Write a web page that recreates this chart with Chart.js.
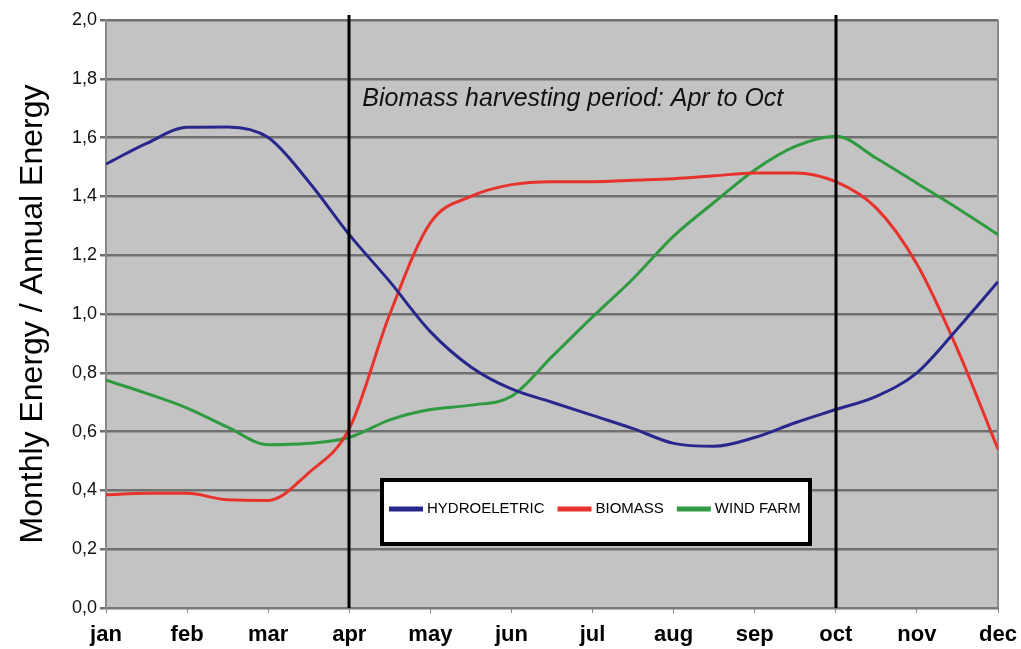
<!DOCTYPE html>
<html>
<head>
<meta charset="utf-8">
<title>Monthly Energy / Annual Energy</title>
<script src="https://cdn.jsdelivr.net/npm/chart.js@4.4.1/dist/chart.umd.min.js"></script>
<style>
  html, body { margin: 0; padding: 0; background: #fff; }
  #wrap { width: 1021px; height: 649px; position: relative; }
</style>
</head>
<body>
<div id="wrap"><canvas id="energyChart"></canvas></div>
<script>
// Data (half-month steps, 0 = jan ... 11 = dec)
const months = ['jan', 'feb', 'mar', 'apr', 'may', 'jun', 'jul', 'aug', 'sep', 'oct', 'nov', 'dec'];
const positions = [0, 0.5, 1, 1.5, 2, 2.5, 3, 3.5, 4, 4.5, 5, 5.5, 6, 6.5, 7, 7.5, 8, 8.5, 9, 9.5, 10, 10.5, 11];
const hydro   = [1.51, 1.58, 1.635, 1.636, 1.60, 1.45, 1.27, 1.11, 0.94, 0.82, 0.745, 0.70, 0.655, 0.61, 0.56, 0.55, 0.58, 0.63, 0.675, 0.72, 0.80, 0.95, 1.11];
const biomass = [0.385, 0.39, 0.39, 0.368, 0.366, 0.46, 0.61, 1.00, 1.31, 1.40, 1.44, 1.45, 1.45, 1.455, 1.46, 1.47, 1.48, 1.48, 1.45, 1.36, 1.17, 0.88, 0.54];
const wind    = [0.775, 0.73, 0.68, 0.615, 0.555, 0.56, 0.58, 0.64, 0.675, 0.69, 0.72, 0.855, 0.99, 1.12, 1.265, 1.38, 1.49, 1.57, 1.605, 1.53, 1.445, 1.36, 1.27];
const seriesNames = ['HYDROELETRIC', 'BIOMASS', 'WIND FARM'];
const seriesColors = ['#28288c', '#e8332c', '#2f9a40'];
const yTicks = [0, 0.2, 0.4, 0.6, 0.8, 1.0, 1.2, 1.4, 1.6, 1.8, 2.0];
const harvestStart = 3, harvestEnd = 9; // apr, oct
const harvestLabel = 'Biomass harvesting period: Apr to Oct';

const FONT = '"Liberation Sans", Arial, Helvetica, sans-serif';

function toPoints(values) {
  return positions.map((x, i) => ({ x, y: values[i] }));
}

// Grey plot background + right border
const plotBackground = {
  id: 'plotBackground',
  beforeDraw(chart) {
    const { ctx, chartArea: a } = chart;
    ctx.save();
    ctx.fillStyle = '#c3c3c3';
    ctx.fillRect(a.left, a.top, a.right - a.left, a.bottom - a.top);
    ctx.restore();
  },
  beforeDatasetsDraw(chart) {
    const { ctx, chartArea: a } = chart;
    ctx.save();
    ctx.strokeStyle = '#8a8a8a';
    ctx.lineWidth = 2;
    ctx.beginPath();
    ctx.moveTo(a.right, a.top);
    ctx.lineTo(a.right, a.bottom);
    ctx.stroke();
    ctx.restore();
  }
};

// Harvest period lines, label and boxed legend
const harvestMarks = {
  id: 'harvestMarks',
  afterDatasetsDraw(chart) {
    const { ctx, chartArea: a, scales: { x, y } } = chart;
    ctx.save();
    ctx.strokeStyle = '#000';
    ctx.lineWidth = 3;
    [harvestStart, harvestEnd].forEach(m => {
      const px = Math.round(x.getPixelForValue(m));
      ctx.beginPath();
      ctx.moveTo(px, a.top - 5);
      ctx.lineTo(px, a.bottom);
      ctx.stroke();
    });
    ctx.fillStyle = '#111';
    ctx.font = `italic 25px ${FONT}`;
    ctx.textBaseline = 'middle';
    ctx.fillText(harvestLabel, x.getPixelForValue(harvestStart) + 13, y.getPixelForValue(1.73));
    ctx.restore();
  },
  afterDraw(chart) {
    const { ctx } = chart;
    const box = { left: 382, top: 480, width: 428, height: 64 };
    ctx.save();
    ctx.fillStyle = '#fff';
    ctx.fillRect(box.left, box.top, box.width, box.height);
    ctx.strokeStyle = '#000';
    ctx.lineWidth = 4;
    ctx.strokeRect(box.left, box.top, box.width, box.height);
    ctx.font = `15px ${FONT}`;
    ctx.textBaseline = 'middle';
    const cy = box.top + box.height / 2 - 3;
    let cx = box.left + 7;
    chart.data.datasets.forEach(ds => {
      ctx.strokeStyle = ds.borderColor;
      ctx.lineWidth = 5;
      ctx.beginPath();
      ctx.moveTo(cx, cy);
      ctx.lineTo(cx + 34, cy);
      ctx.stroke();
      cx += 38;
      ctx.fillStyle = '#000';
      ctx.fillText(ds.label, cx, cy);
      cx += ctx.measureText(ds.label).width + 13;
    });
    ctx.restore();
  }
};

new Chart(document.getElementById('energyChart'), {
  type: 'line',
  data: {
    datasets: [hydro, biomass, wind].map((vals, i) => ({
      label: seriesNames[i],
      data: toPoints(vals),
      borderColor: seriesColors[i],
      backgroundColor: seriesColors[i],
      borderWidth: 3,
      pointRadius: 0,
      cubicInterpolationMode: 'monotone',
      fill: false
    }))
  },
  options: {
    responsive: true,
    maintainAspectRatio: false,
    animation: false,
    layout: { padding: { top: 20, right: 23, left: 0, bottom: 0 } },
    plugins: { legend: { display: false }, tooltip: { enabled: false } },
    scales: {
      x: {
        type: 'linear',
        min: 0,
        max: months.length - 1,
        afterFit: s => { s.height = 41; s.paddingLeft = 0; s.paddingRight = 0; },
        afterBuildTicks: s => { s.ticks = months.map((_, i) => ({ value: i })); },
        ticks: {
          callback: v => months[v],
          color: '#000',
          padding: 9,
          maxRotation: 0,
          font: { family: FONT, size: 22, weight: 'bold' }
        },
        grid: { drawOnChartArea: false, drawTicks: true, tickLength: 5, color: '#8a8a8a', lineWidth: 1 },
        border: { display: true, color: '#7a7a7a', width: 2 }
      },
      y: {
        min: 0,
        max: 2,
        afterFit: s => { s.width = 106; },
        afterBuildTicks: s => { s.ticks = yTicks.map(v => ({ value: v })); },
        ticks: {
          callback: v => v.toFixed(1).replace('.', ','),
          color: '#111',
          padding: 3,
          font: { family: FONT, size: 18 }
        },
        grid: { color: '#707070', lineWidth: 2.5, tickLength: 6 },
        border: { display: true, color: '#8a8a8a', width: 2 },
        title: {
          display: true,
          text: 'Monthly Energy / Annual Energy',
          color: '#000',
          padding: { top: 14, bottom: 0 },
          font: { family: FONT, size: 32 }
        }
      }
    }
  },
  plugins: [plotBackground, harvestMarks]
});
</script>
</body>
</html>
